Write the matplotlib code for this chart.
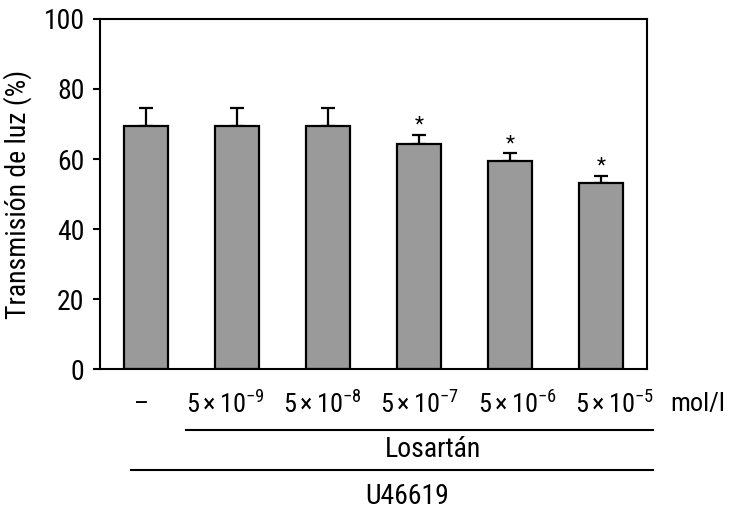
import matplotlib
matplotlib.use("Agg")
import matplotlib.pyplot as plt
import matplotlib.transforms as mtransforms
from matplotlib import font_manager
import numpy as np

# ---- data ----
tick_labels = ["–", r"$5\times10^{-9}$", r"$5\times10^{-8}$", r"$5\times10^{-7}$",
               r"$5\times10^{-6}$", r"$5\times10^{-5}$"]
values = [69.5, 69.5, 69.5, 64.3, 59.3, 53.1]
errors = [5.1, 5.1, 5.1, 2.6, 2.3, 2.0]
significant = [False, False, False, True, True, True]
yticks = [0, 20, 40, 60, 80, 100]
ylabel = "Transmisión de luz (%)"
unit_label = "mol/l"
group1_label = "Losartán"
group2_label = "U46619"

available = {f.name for f in font_manager.fontManager.ttflist}
prefs = ["Roboto Condensed", "Arial Narrow", "Liberation Sans Narrow", "Nimbus Sans Narrow",
         "Archivo Narrow", "PT Sans Narrow", "Sofia Sans Condensed", "Liberation Sans"]
main_font = next(p for p in prefs if p in available)
FONT = [main_font, "DejaVu Sans"]
plt.rcParams["font.family"] = FONT
plt.rcParams["mathtext.fontset"] = "custom"
plt.rcParams["mathtext.rm"] = main_font
plt.rcParams["mathtext.it"] = main_font
plt.rcParams["mathtext.sf"] = main_font
plt.rcParams["mathtext.default"] = "regular"

fig = plt.figure(figsize=(7.3, 5.12), dpi=100)
ax = fig.add_axes([0.137, 0.279, 0.749, 0.684])

x = np.arange(len(values))
ax.bar(x, values, width=0.48, color="#9a9a9a", edgecolor="black", linewidth=1.6, zorder=2)
ax.errorbar(x, values, yerr=[np.zeros(len(errors)), errors], fmt="none",
            ecolor="black", elinewidth=1.6, capsize=4.7, capthick=1.6, zorder=1)

for xi, v, e, s in zip(x, values, errors, significant):
    if s:
        ax.text(xi, v + e + 1.2, "*", ha="center", va="baseline", fontsize=15)

ax.set_xlim(-0.505, 5.505)
ax.set_ylim(0, 100)
ax.set_yticks(yticks)
ax.set_xticks([])
ax.tick_params(axis="y", direction="out", length=5, width=1.5, pad=6, labelsize=20)
for sp in ax.spines.values():
    sp.set_linewidth(1.5)
ax.set_ylabel(ylabel, fontsize=20)
ax.yaxis.set_label_coords(-0.125, 0.5)

trans = mtransforms.blended_transform_factory(ax.transData, fig.transFigure)

# category labels (spread slightly wider than the bars, as in the original)
for i, lab in enumerate(tick_labels):
    xpos = -0.05 if i == 0 else 1.07 * i - 0.2
    ax.text(xpos, 0.211, lab, transform=trans, ha="center", va="center",
            fontsize=19, clip_on=False)
ax.text(6.07, 0.211, unit_label, transform=trans, ha="center", va="center",
        fontsize=19, clip_on=False)

# group lines
ax.plot([0.44, 5.57], [0.160, 0.160], color="black", lw=1.5, transform=trans, clip_on=False)
ax.text(3.15, 0.107, group1_label, transform=trans, ha="center", va="baseline",
        fontsize=20, clip_on=False)
ax.plot([-0.165, 5.57], [0.082, 0.082], color="black", lw=1.5, transform=trans, clip_on=False)
ax.text(2.87, 0.0156, group2_label, transform=trans, ha="center", va="baseline",
        fontsize=20, clip_on=False)

fig.savefig("out.png", dpi=100)
